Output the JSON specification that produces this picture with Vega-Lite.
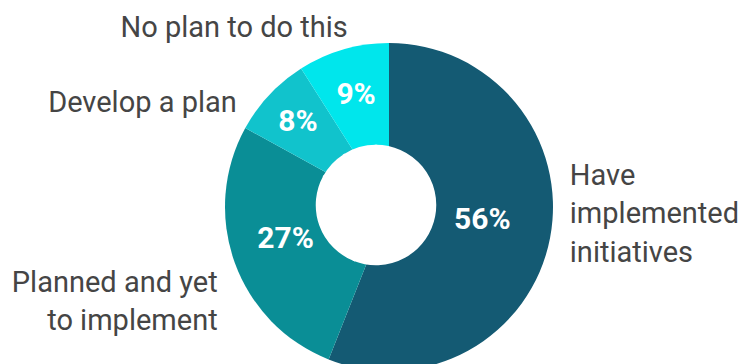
{
  "$schema": "https://vega.github.io/schema/vega-lite/v6.json",
  "width": 704,
  "height": 314,
  "autosize": "none",
  "padding": {"left": 37, "top": 50, "right": 0, "bottom": 0},
  "background": "white",
  "view": {"stroke": null},
  "data": {
    "values": [
      {"segment": "Have implemented initiatives", "label": "Have\nimplemented\ninitiatives", "share": 0.56, "rank": 1},
      {"segment": "Planned and yet to implement", "label": "Planned and yet\nto implement", "share": 0.27, "rank": 2},
      {"segment": "Develop a plan", "label": "Develop a plan", "share": 0.08, "rank": 3},
      {"segment": "No plan to do this", "label": "No plan to do this", "share": 0.09, "rank": 4}
    ]
  },
  "encoding": {
    "theta": {"field": "share", "type": "quantitative", "stack": true},
    "order": {"field": "rank", "type": "quantitative", "sort": "ascending"}
  },
  "layer": [
    {
      "mark": {"type": "arc", "outerRadius": 164, "innerRadius": 0, "stroke": null},
      "encoding": {
        "color": {
          "field": "segment",
          "type": "nominal",
          "scale": {
            "domain": ["Have implemented initiatives", "Planned and yet to implement", "Develop a plan", "No plan to do this"],
            "range": ["#145a73", "#0a8e96", "#11c3cc", "#00e6ec"]
          },
          "legend": null
        }
      }
    },
    {
      "mark": {"type": "arc", "outerRadius": 59, "innerRadius": 0, "fill": "white", "stroke": "white", "strokeWidth": 2.5, "xOffset": -13, "yOffset": -2}
    },
    {
      "mark": {
        "type": "text",
        "radius": {"expr": "datum.rank == 1 ? 95 : datum.rank == 2 ? 110 : datum.rank == 3 ? 125 : 118"},
        "dy": {"expr": "datum.rank <= 2 ? -5 : 1"},
        "font": "Roboto",
        "fontWeight": "bold",
        "fontSize": 30,
        "fill": "white",
        "align": "center",
        "baseline": "middle"
      },
      "encoding": {
        "text": {"field": "share", "type": "quantitative", "format": ".0%"}
      }
    },
    {
      "mark": {
        "type": "text",
        "radius": 180,
        "align": {"expr": "datum.rank == 1 ? 'left' : 'right'"},
        "dx": {"expr": "datum.rank == 1 ? 4 : datum.rank == 2 ? -2 : datum.rank == 3 ? -21 : 9"},
        "dy": {"expr": "datum.rank == 1 ? -65 : datum.rank == 2 ? 15 : datum.rank == 3 ? 19 : -6"},
        "baseline": "middle",
        "font": "Roboto",
        "fontSize": 29,
        "lineBreak": "\n",
        "lineHeight": 38.5,
        "fill": "#454545"
      },
      "encoding": {"text": {"field": "label"}}
    }
  ]
}
